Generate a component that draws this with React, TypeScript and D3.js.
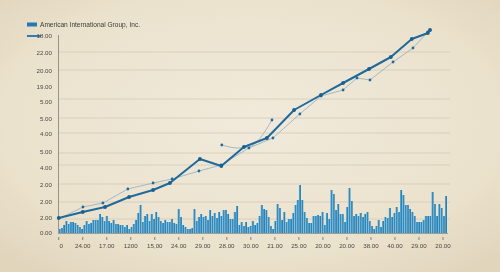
import React from "react";
import * as d3 from "d3";

const W = 500;
const H = 272;

const seriesName = "American International Group, Inc.";

// x-axis tick labels (17 positions)
const xTickLabels = ["0", "24.00", "17.00", "1200", "15,00", "24.00", "29.00", "28.00", "30.00", "21.00", "25.00", "20.00", "20.00", "38.00", "40.00", "29.00", "20.00"];

// y-axis labels and their values (scale units)
const yTickLabels = ["18.00", "22.00", "20.00", "19.00", "5.00", "5.00", "4.00", "5.00", "4.00", "2.00", "2.00", "2.00", "0.00"];
const yTickValues = [197, 180, 162, 146, 131, 114, 99, 81, 65, 48, 31, 15, 0];
const gridValues = [181, 163, 134, 115, 100, 80, 68, 49, 31, 14];

// main thick line
const mainX = [0, 1.0, 1.93, 2.93, 3.93, 4.63, 5.88, 6.77, 7.71, 8.67, 9.8, 10.92, 11.84, 12.92, 13.83, 14.7, 15.37, 15.46];
const mainY = [15, 21, 26, 36, 43, 50, 74, 67, 86, 95, 123, 138, 150, 164, 176, 194, 200, 203];

// thin comparison line
const thinX = [0, 1.01, 1.84, 2.88, 3.93, 4.72, 5.84, 6.76, 7.92, 8.92, 10.04, 10.92, 11.84, 12.42, 12.96, 13.92, 14.75, 15.37];
const thinY = [14, 26, 30, 44, 50, 54, 62, 68, 85, 95, 119, 137, 143, 155, 153, 171, 185, 201];

// thin branch
const branchX = [6.79, 7.46, 7.92, 8.88];
const branchY = [88, 85, 86, 113];

// volume bars
const barValues = [
  4, 5, 8, 12, 9, 11, 11, 10, 8, 6, 4, 8, 12, 9, 10, 13, 13, 13, 19, 16, 12, 17, 12, 10, 13, 9, 9, 8, 8, 6, 8, 4, 6, 9, 13, 20, 28, 11, 17, 19, 12, 19, 14, 21, 16, 12, 10, 13, 11, 11, 14, 10, 9, 24, 16, 8, 6, 4,
  4, 5, 24, 12, 16, 19, 16, 17, 13, 23, 17, 20, 15, 21, 17, 23, 23, 19, 14, 14, 21, 27, 8, 11, 7, 11, 6, 7, 12, 8, 10, 17, 28, 24, 23, 16, 7, 4, 12, 29, 25, 13, 21, 11, 14, 14, 20, 28, 33, 48, 33, 21, 15, 10, 10, 17, 17, 18,
  17, 21, 8, 20, 14, 43, 39, 23, 29, 19, 19, 11, 26, 45, 32, 17, 19, 17, 20, 16, 19, 21, 12, 7, 4, 7, 13, 6, 12, 16, 15, 25, 16, 20, 26, 21, 43, 38, 28, 28, 24, 21, 17, 11, 11, 11, 13, 17, 17, 17, 41, 29, 17, 29, 25, 17, 37,
];

export default function App() {
  const x = d3.scaleLinear().domain([0, 16]).range([58.7, 443]);
  const y = d3.scaleLinear().domain([0, 200]).range([233, 33]);
  const xb = d3
    .scaleBand<number>()
    .domain(barValues.map((_, i) => i))
    .range([58.5, 447])
    .paddingInner(0.1);

  const mainPts = mainX.map((v, i) => [x(v), y(mainY[i])] as [number, number]);
  const thinPts = thinX.map((v, i) => [x(v), y(thinY[i])] as [number, number]);
  const branchPts = branchX.map((v, i) => [x(v), y(branchY[i])] as [number, number]);

  const lin = d3.line().curve(d3.curveLinear);
  const smooth = d3.line().curve(d3.curveMonotoneX);

  const font = "'Liberation Sans', Arial, sans-serif";

  return (
    <svg width={W} height={H} style={{ position: "fixed", left: 0, top: 0 }} xmlns="http://www.w3.org/2000/svg">
      <defs>
        <radialGradient id="bg" cx="50%" cy="45%" r="70%">
          <stop offset="0%" stopColor="#f1eadb" />
          <stop offset="70%" stopColor="#ebe2cd" />
          <stop offset="100%" stopColor="#e1d5bc" />
        </radialGradient>
        <linearGradient id="barg" x1="0" x2="1" y1="0" y2="0">
          <stop offset="0%" stopColor="#68b4df" />
          <stop offset="45%" stopColor="#3290c6" />
          <stop offset="100%" stopColor="#2273a6" />
        </linearGradient>
      </defs>
      <rect x={0} y={0} width={W} height={H} fill="url(#bg)" />

      {/* legend */}
      <rect x={27} y={22.5} width={10} height={4} fill="#2379b0" />
      <text x={40} y={27} fontFamily={font} fontSize={7.6} fill="#3a3a3a" textLength={100} lengthAdjust="spacingAndGlyphs">
        {seriesName}
      </text>
      <line x1={27} x2={41} y1={y(197)} y2={y(197)} stroke="#2a7fb5" strokeWidth={2} />

      {/* gridlines */}
      {gridValues.map((g, i) => (
        <line key={"g" + i} x1={58} x2={450} y1={y(g)} y2={y(g)} stroke="#d3cab6" strokeWidth={0.8} />
      ))}

      {/* y axis */}
      <line x1={58.5} x2={58.5} y1={35} y2={233} stroke="#8d8a80" strokeWidth={0.9} />
      {yTickLabels.map((t, i) => (
        <text
          key={"yl" + i}
          x={52}
          y={y(yTickValues[i])}
          textAnchor="end"
          dominantBaseline="middle"
          fontFamily={font}
          fontSize={6.2}
          fill="#4a4a46"
        >
          {t}
        </text>
      ))}

      {/* bars */}
      {barValues.map((v, i) => (
        <rect
          key={"b" + i}
          x={xb(i)}
          y={y(v)}
          width={xb.bandwidth()}
          height={y(0) - y(v)}
          fill="url(#barg)"
        />
      ))}

      {/* x axis */}
      <line x1={58} x2={448} y1={233.5} y2={233.5} stroke="#8d8a80" strokeWidth={0.8} />
      {xTickLabels.map((t, i) => (
        <g key={"xt" + i}>
          <line x1={x(i)} x2={x(i)} y1={237} y2={240} stroke="#6d6a62" strokeWidth={0.8} />
          <text x={x(i) + (i === 0 ? 2.5 : 0)} y={248} textAnchor="middle" fontFamily={font} fontSize={6.2} fill="#4a4a46">
            {t}
          </text>
        </g>
      ))}

      {/* thin line */}
      <path d={lin(thinPts) || ""} fill="none" stroke="#98b3c3" strokeWidth={0.9} />
      <path d={smooth(branchPts) || ""} fill="none" stroke="#98b3c3" strokeWidth={0.9} />
      {thinPts.slice(1).map((p, i) => (
        <circle key={"td" + i} cx={p[0]} cy={p[1]} r={1.4} fill="#23699a" />
      ))}
      {[branchPts[0], branchPts[branchPts.length - 1]].map((p, i) => (
        <circle key={"bd" + i} cx={p[0]} cy={p[1]} r={1.4} fill="#23699a" />
      ))}

      {/* main line */}
      <path d={lin(mainPts) || ""} fill="none" stroke="#1e6a9c" strokeWidth={2} strokeLinejoin="round" />
      {mainPts.map((p, i) => (
        <circle key={"md" + i} cx={p[0]} cy={p[1]} r={1.9} fill="#1a5f8e" />
      ))}
    </svg>
  );
}
